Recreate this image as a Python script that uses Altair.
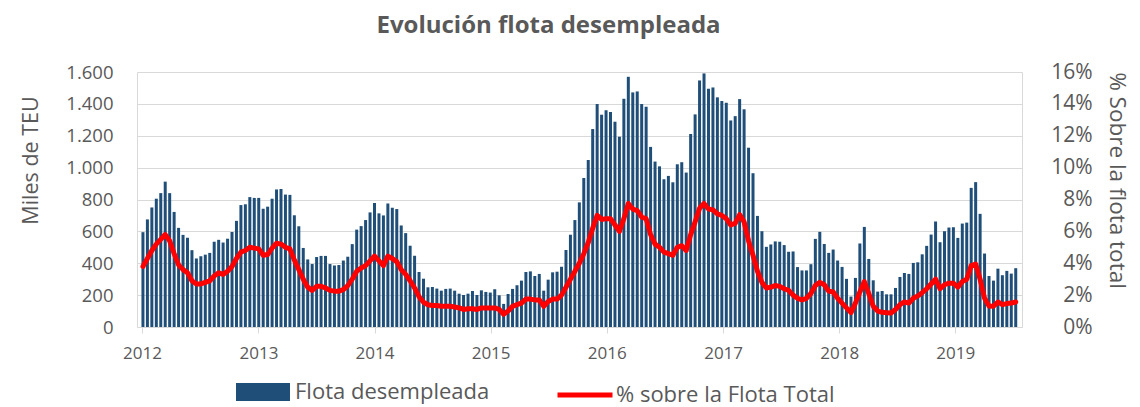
import altair as alt
import pandas as pd

# Flota desempleada (miles de TEU), quincenal, bloques de 26 quincenas
flota_2012 = [595, 675, 750, 805, 840, 912, 840, 722, 622, 578, 560, 482, 430, 444, 454, 465, 535, 547, 530, 554, 596, 666, 765, 770, 815, 810]
flota_2013 = [810, 742, 755, 805, 863, 866, 831, 829, 701, 632, 496, 424, 395, 439, 446, 446, 395, 386, 389, 417, 441, 520, 611, 633, 671, 719]
flota_2014 = [778, 713, 700, 775, 749, 740, 637, 589, 510, 447, 345, 303, 249, 251, 241, 228, 239, 241, 228, 209, 201, 209, 226, 201, 230, 220]
flota_2015 = [216, 237, 199, 145, 207, 239, 262, 291, 345, 349, 320, 333, 228, 297, 343, 347, 378, 483, 579, 671, 782, 935, 1048, 1242, 1399, 1332]
flota_2016 = [1360, 1349, 1288, 1194, 1432, 1570, 1472, 1478, 1399, 1382, 1130, 1038, 1008, 927, 948, 908, 1021, 1034, 969, 1211, 1334, 1547, 1591, 1495, 1503, 1441]
flota_2017 = [1418, 1407, 1296, 1323, 1430, 1366, 1125, 965, 697, 601, 503, 518, 537, 535, 514, 472, 474, 376, 355, 355, 394, 553, 597, 521, 465, 486]
flota_2018 = [417, 377, 302, 191, 308, 524, 628, 427, 293, 222, 226, 205, 205, 245, 314, 339, 333, 402, 406, 456, 509, 580, 662, 532, 601, 624]
flota_2019 = [626, 559, 649, 655, 873, 909, 710, 461, 320, 291, 366, 325, 352, 335, 369]

# % sobre la flota total
pct_2012 = [3.8, 4.3, 4.8, 5.2, 5.5, 5.8, 5.4, 4.6, 3.9, 3.6, 3.4, 2.9, 2.7, 2.7, 2.8, 2.9, 3.2, 3.4, 3.3, 3.5, 3.8, 4.3, 4.7, 4.8, 5.0, 4.95]
pct_2013 = [4.9, 4.5, 4.55, 4.95, 5.25, 5.2, 5.0, 4.9, 4.2, 3.6, 3.0, 2.5, 2.3, 2.55, 2.55, 2.45, 2.3, 2.25, 2.25, 2.35, 2.6, 3.0, 3.5, 3.7, 3.85, 4.15]
pct_2014 = [4.45, 4.15, 3.85, 4.45, 4.3, 4.1, 3.6, 3.3, 2.9, 2.45, 1.9, 1.55, 1.4, 1.35, 1.35, 1.3, 1.3, 1.3, 1.25, 1.2, 1.1, 1.15, 1.15, 1.1, 1.2, 1.2]
pct_2015 = [1.2, 1.2, 1.1, 0.8, 1.0, 1.3, 1.4, 1.5, 1.75, 1.75, 1.7, 1.7, 1.3, 1.6, 1.75, 1.75, 2.0, 2.5, 3.0, 3.5, 4.0, 4.6, 5.3, 6.2, 7.0, 6.75]
pct_2016 = [6.8, 6.8, 6.4, 6.0, 6.8, 7.75, 7.4, 7.3, 6.9, 6.8, 5.8, 5.2, 5.0, 4.7, 4.6, 4.5, 5.0, 5.1, 4.8, 5.8, 6.6, 7.45, 7.75, 7.4, 7.35, 7.1]
pct_2017 = [7.0, 6.8, 6.4, 6.5, 7.05, 6.6, 5.4, 4.5, 3.5, 2.8, 2.45, 2.5, 2.6, 2.55, 2.4, 2.3, 2.0, 1.8, 1.7, 1.8, 2.1, 2.6, 2.8, 2.65, 2.25, 2.2]
pct_2018 = [1.8, 1.5, 1.2, 0.9, 1.5, 2.2, 2.85, 2.1, 1.3, 1.0, 0.92, 0.9, 0.88, 1.1, 1.4, 1.57, 1.5, 1.8, 1.95, 2.15, 2.4, 2.7, 3.0, 2.4, 2.65, 2.75]
pct_2019 = [2.75, 2.5, 2.85, 3.0, 3.85, 3.95, 3.0, 1.8, 1.32, 1.3, 1.57, 1.4, 1.47, 1.5, 1.57]

years = [2012, 2013, 2014, 2015, 2016, 2017, 2018, 2019]
y_ticks = [0, 200, 400, 600, 800, 1000, 1200, 1400, 1600]
pct_ticks = [0, 2, 4, 6, 8, 10, 12, 14, 16]

flota = flota_2012 + flota_2013 + flota_2014 + flota_2015 + flota_2016 + flota_2017 + flota_2018 + flota_2019
pct = pct_2012 + pct_2013 + pct_2014 + pct_2015 + pct_2016 + pct_2017 + pct_2018 + pct_2019
fechas = pd.date_range("2012-01-04", periods=len(flota), freq="14D").strftime("%Y-%m-%dT00:00:00")

df = pd.DataFrame({
    "fecha": list(fechas),
    "flota": flota,
    "pct": pct,
    "s1": "Flota desempleada",
    "s2": "% sobre la Flota Total",
})

GRAY = "#595959"
LIGHT = "#d9d9d9"
FONT = "Open Sans"
BLUE = "#1F4E79"
RED = "#FF0000"

x_enc = alt.X(
    "fecha:T",
    scale=alt.Scale(domain=[alt.DateTime(year=2012, month=1, date=1),
                            alt.DateTime(year=2019, month=7, date=14)]),
    axis=alt.Axis(
        values=[alt.DateTime(year=y, month=1, date=1) for y in years],
        format="%Y", title=None, grid=False,
        domainColor=LIGHT, tickColor=LIGHT, tickSize=6,
        labelFontSize=17, labelColor=GRAY, labelPadding=12, labelFlush=False,
    ),
)

bars = alt.Chart(df).mark_bar(width=3).encode(
    x=x_enc,
    y=alt.Y(
        "flota:Q",
        scale=alt.Scale(domain=[0, 1600], nice=False),
        axis=alt.Axis(
            values=y_ticks,
            labelExpr="replace(format(datum.value, ',d'), ',', '.')",
            title="Miles de TEU", titleFontSize=21.5, titleFontWeight="normal", titleColor=GRAY,
            titleAngle=270, titleX=-106, titleY=88, titleAlign="center", titleBaseline="middle",
            labelFontSize=18.5, labelColor=GRAY, labelPadding=24,
            ticks=False, grid=True, gridColor=LIGHT, domainColor=LIGHT,
        ),
    ),
    fill=alt.Fill(
        "s1:N",
        scale=alt.Scale(range=[BLUE]),
        legend=alt.Legend(
            orient="none", legendX=99, legendY=293, title=None,
            symbolType="M-1,-0.333H1V0.333H-1Z", symbolSize=2916, symbolStrokeWidth=0,
            labelFontSize=22, labelColor=GRAY, labelFont=FONT, labelOffset=5, labelLimit=400,
        ),
    ),
)

line = alt.Chart(df).mark_line(strokeWidth=5, strokeJoin="round", strokeCap="round").encode(
    x=x_enc,
    y=alt.Y(
        "pct:Q",
        scale=alt.Scale(domain=[0, 16], nice=False),
        axis=alt.Axis(
            orient="right", values=pct_ticks, labelExpr="datum.value + '%'",
            title="% Sobre la flota total", titleFontSize=22.5, titleFontWeight="normal", titleColor=GRAY,
            titleAngle=90, titleX=94, titleY=108, titleAlign="center", titleBaseline="middle",
            labelFontSize=21, labelColor=GRAY, labelAlign="right", labelPadding=70,
            ticks=False, grid=False, domainColor=LIGHT,
        ),
    ),
    stroke=alt.Stroke(
        "s2:N",
        scale=alt.Scale(range=[RED]),
        legend=alt.Legend(
            orient="none", legendX=418, legendY=293, title=None,
            symbolType="stroke", symbolSize=3025, symbolStrokeWidth=5,
            labelFontSize=22, labelColor=GRAY, labelFont=FONT, labelOffset=1, labelLimit=400,
        ),
    ),
)

chart = alt.layer(bars, line).resolve_scale(y="independent").properties(
    width=885,
    height=255,
    autosize=alt.AutoSizeParams(type="none"),
    padding={"left": 129, "top": 64, "right": 110, "bottom": 80},
    title=alt.TitleParams(
        "Evolución flota desempleada", fontSize=24, fontWeight="bold", color=GRAY,
        font=FONT, anchor="middle", dx=-31, offset=4, baseline="alphabetic", frame="group",
    ),
).configure(font=FONT).configure_view(stroke=None)

chart.save("out.html", embed_options={"renderer": "svg", "actions": False})
